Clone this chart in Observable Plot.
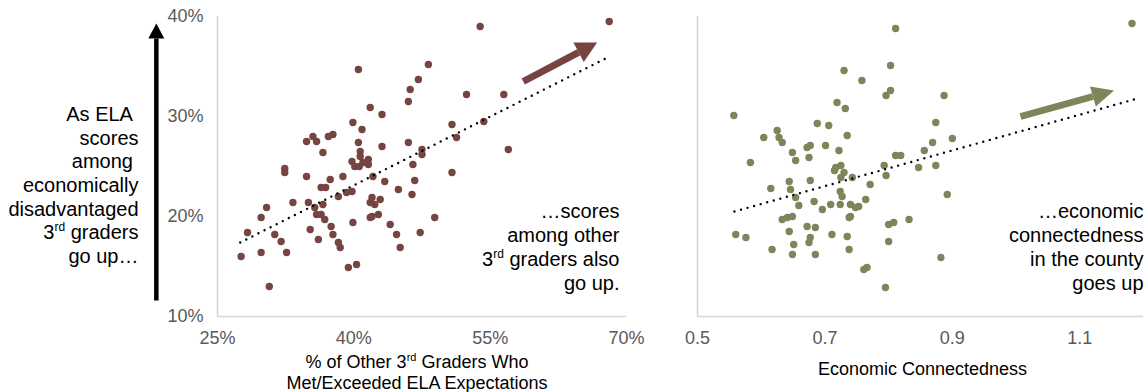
<!DOCTYPE html>
<html><head><meta charset="utf-8">
<script src="https://cdn.jsdelivr.net/npm/d3@7"></script>
<script src="https://cdn.jsdelivr.net/npm/@observablehq/plot@0.6"></script>
<style>
html,body{margin:0;padding:0;background:#fff;}
#wrap{position:relative;width:1148px;height:392px;overflow:hidden;}
#left{position:absolute;left:0;top:0;}
#right{position:absolute;left:660px;top:0;}
</style></head><body><div id="wrap"><div id="left"></div><div id="right"></div></div>
<script>
// ---- data ----
const otherELA = [32.4,32.4,34.8,35.5,35.9,36.6,37.2,37.7,34.8,37.4,
  38.8,39.9,40.5,40.9,40.5,40.7,40.7,39.8,40.1,40.6,
  41.0,41.6,41.6,42.1,41.8,43.1,43.1,46.0,46.2,47.1,
  48.2,46.0,46.5,47.5,47.5,46.7,50.8,50.8,43.4,53.9,
  68.1,52.4,56.5,51.3,54.3,57.0,44.9,46.4,36.4,36.9,
  38.3,39.2,39.8,30.4,29.8,28.3,31.3,32.0,33.3,35.0,
  36.6,35.7,35.9,36.4,36.8,37.5,37.7,38.3,38.5,39.9,
  35.2,36.1,32.6,29.8,27.6,30.7,39.4,40.3,41.8,42.0,
  42.3,42.9,41.8,42.0,42.7,44.0,44.7,45.1,47.3,48.9];
const disadvELA = [24.8,24.4,27.5,28.0,27.5,26.4,28.0,28.2,24.0,23.7,
  24.0,29.4,34.7,28.7,27.4,26.5,26.0,25.5,25.0,25.0,
  25.4,25.7,25.2,24.0,30.9,30.2,27.0,31.5,32.7,33.7,
  35.2,27.4,25.2,26.7,26.2,23.6,29.2,24.4,23.5,39.0,
  39.5,32.2,32.2,27.9,29.5,26.7,22.7,22.2,22.9,22.9,
  22.0,22.4,22.5,20.9,19.9,18.4,18.2,17.5,21.4,21.4,
  21.2,20.9,20.2,20.2,19.7,19.0,18.2,17.4,16.9,19.4,
  18.7,17.7,16.4,16.4,16.0,13.0,14.9,15.2,21.4,21.9,
  21.2,21.7,19.9,20.0,20.2,19.2,18.2,16.9,18.4,19.9];
const econConn = [0.811,0.803,0.730,0.758,0.803,0.796,0.719,0.732,0.557,0.688,
  0.706,0.625,0.628,0.633,0.604,0.735,0.672,0.677,0.701,0.649,
  0.654,0.675,0.722,0.583,0.811,0.819,0.847,0.793,0.796,0.717,
  0.725,0.715,0.730,0.725,0.743,0.644,0.677,1.182,0.887,0.874,
  0.869,0.900,0.856,0.874,0.646,0.615,0.654,0.659,0.683,0.696,
  0.709,0.724,0.727,0.724,0.740,0.748,0.753,0.764,0.771,0.738,
  0.740,0.633,0.641,0.649,0.644,0.672,0.685,0.677,0.675,0.651,
  0.649,0.685,0.617,0.560,0.576,0.711,0.735,0.738,0.761,0.766,
  0.795,0.800,0.808,0.800,0.832,0.892,0.882];
const disadvELA2 = [38.8,35.1,34.6,33.6,32.6,32.1,31.4,30.8,30.1,29.3,
  29.1,28.6,27.9,27.4,27.9,28.1,26.9,27.1,27.1,26.4,
  25.6,25.9,26.6,25.4,26.1,26.1,24.9,25.1,24.1,24.9,
  25.1,24.6,24.4,23.9,23.9,23.5,23.6,39.3,32.1,29.4,
  27.4,27.8,26.6,25.1,22.7,22.8,21.9,21.1,21.5,20.7,
  21.2,22.5,22.0,21.2,21.2,20.9,21.0,21.7,23.2,19.9,
  20.0,19.7,19.9,20.0,18.5,19.0,18.9,17.9,17.4,17.2,
  16.2,16.2,16.7,18.2,17.9,18.2,18.0,16.7,14.7,14.9,
  12.9,19.2,19.4,17.5,19.7,22.2,15.9];
const trendLeftX = [27.5, 67.7], trendLeftY = [17.4, 35.8];
const trendRightX = [0.558, 1.185], trendRightY = [20.5, 31.7];
const arrowLeftX = [58.64, 64.73], arrowLeftY = [33.5, 36.42];
const arrowRightX = [1.007, 1.1206], arrowRightY = [30.0, 32.0];
const bigArrowX = [18.27, 18.27], bigArrowY = [11.6, 37.8];
const yTicks = [10, 20, 30, 40];
const xTicksLeft = [25, 40, 55, 70];
const xTicksRight = [0.5, 0.7, 0.9, 1.1];
const xTitleLeft = "% of Other 3rd Graders Who\nMet/Exceeded ELA Expectations";
const xTitleRight = "Economic Connectedness";
const noteLeftMargin = "As ELA\u00a0\nscores\namong\u00a0\neconomically\ndisadvantaged\n3rd graders\ngo up\u2026";
const noteLeftPanel = "\u2026scores\namong other\n3rd graders also\ngo up.";
const noteRightPanel = "\u2026economic\nconnectedness\nin the county\ngoes up";

// ---- build ----
const leftData = otherELA.map((x, i) => ({x, y: disadvELA[i]}));
const rightData = econConn.map((x, i) => ({x, y: disadvELA2[i]}));
const pairs = (xs, ys) => xs.map((x, i) => ({x, y: ys[i]}));
const seg = (xs, ys) => [{x1: xs[0], y1: ys[0], x2: xs[1], y2: ys[1]}];

const font = '"Liberation Sans", Arial, Helvetica, sans-serif';
const maroon = "#764541", olive = "#7e855a", axisGray = "#d6d6d6";

function head(angleDeg, L, W) {
  const a = angleDeg * Math.PI / 180;
  const ux = Math.cos(a), uy = -Math.sin(a);
  const px = -uy, py = ux;
  return {draw(ctx) {
    ctx.moveTo(L * ux, L * uy);
    ctx.lineTo(W / 2 * px, W / 2 * py);
    ctx.lineTo(-W / 2 * px, -W / 2 * py);
    ctx.closePath();
  }};
}

const style = {fontFamily: font, fontSize: "18px", color: "#595959", background: "white"};
const dotted = {stroke: "black", strokeWidth: 2.4, strokeDasharray: "0,6.8", strokeLinecap: "round"};
const note = {text: d => d, textAnchor: "end", lineAnchor: "middle", fill: "black", fontSize: 20};

const leftPlot = Plot.plot({
  width: 660, height: 392, marginLeft: 217, marginRight: 34, marginTop: 16, marginBottom: 76,
  style,
  x: {domain: [25, 70], ticks: xTicksLeft, tickFormat: d => d + "%", tickSize: 0, tickPadding: 15, label: null},
  y: {domain: [10, 40], ticks: yTicks, tickFormat: d => d + "%", tickSize: 0, tickPadding: 14, label: null},
  marks: [
    Plot.ruleX([25], {stroke: axisGray, strokeWidth: 1.6}),
    Plot.ruleY([10], {stroke: axisGray, strokeWidth: 1.6}),
    Plot.dot(leftData, {x: "x", y: "y", r: 3.7, fill: maroon}),
    Plot.line(pairs(trendLeftX, trendLeftY), {x: "x", y: "y", ...dotted}),
    Plot.link(seg(arrowLeftX, arrowLeftY), {x1: "x1", y1: "y1", x2: "x2", y2: "y2", stroke: maroon, strokeWidth: 7}),
    Plot.dot([{x: arrowLeftX[1], y: arrowLeftY[1]}], {x: "x", y: "y", symbol: head(28, 21, 22), fill: maroon, stroke: "none"}),
    Plot.link(seg(bigArrowX, bigArrowY), {x1: "x1", y1: "y1", x2: "x2", y2: "y2", stroke: "black", strokeWidth: 4.5}),
    Plot.dot([{x: bigArrowX[1], y: bigArrowY[1]}], {x: "x", y: "y", symbol: head(90, 15, 16), fill: "black", stroke: "none"}),
    Plot.text([noteLeftMargin], {...note, frameAnchor: "left", dx: -79, dy: 18, lineHeight: 1.183}),
    Plot.text([noteLeftPanel], {...note, frameAnchor: "bottom-right", dx: -7, dy: -70, lineHeight: 1.2}),
    Plot.text([xTitleLeft], {text: d => d, frameAnchor: "bottom", dx: -5, dy: 55, lineAnchor: "middle", lineHeight: 1.2, fill: "black", fontSize: 18})
  ]
});

const rightPlot = Plot.plot({
  width: 488, height: 392, marginLeft: 37, marginRight: 5, marginTop: 16, marginBottom: 76,
  style,
  x: {domain: [0.5, 1.2], ticks: xTicksRight, tickFormat: d3.format(".1f"), tickSize: 0, tickPadding: 15, label: null},
  y: {domain: [10, 40], axis: null},
  marks: [
    Plot.ruleX([0.5], {stroke: axisGray, strokeWidth: 1.6}),
    Plot.ruleY([10], {stroke: axisGray, strokeWidth: 1.6}),
    Plot.dot(rightData, {x: "x", y: "y", r: 3.7, fill: olive}),
    Plot.line(pairs(trendRightX, trendRightY), {x: "x", y: "y", ...dotted}),
    Plot.link(seg(arrowRightX, arrowRightY), {x1: "x1", y1: "y1", x2: "x2", y2: "y2", stroke: olive, strokeWidth: 7}),
    Plot.dot([{x: arrowRightX[1], y: arrowRightY[1]}], {x: "x", y: "y", symbol: head(16, 22, 21), fill: olive, stroke: "none"}),
    Plot.text([noteRightPanel], {...note, frameAnchor: "bottom-right", dx: 0, dy: -70, lineHeight: 1.2}),
    Plot.text([xTitleRight], {text: d => d, frameAnchor: "bottom", dx: 2, dy: 52.5, lineAnchor: "middle", fill: "black", fontSize: 18})
  ]
});

const NS = "http://www.w3.org/2000/svg";
function superscript(svg) {
  svg.querySelectorAll("text, tspan").forEach(el => {
    if (el.childElementCount === 0 && el.textContent.includes("3rd")) {
      const holder = el.closest("[font-size]");
      const fs = holder ? parseFloat(holder.getAttribute("font-size")) || 18 : 18;
      const shift = Math.round(fs * 0.38);
      const [a, b] = el.textContent.split("3rd");
      el.textContent = "";
      el.appendChild(document.createTextNode(a + "3"));
      const sup = document.createElementNS(NS, "tspan");
      sup.setAttribute("dy", String(-shift));
      sup.setAttribute("font-size", String(Math.round(fs * 0.62)));
      sup.textContent = "rd";
      el.appendChild(sup);
      const rest = document.createElementNS(NS, "tspan");
      rest.setAttribute("dy", String(shift));
      rest.textContent = b;
      el.appendChild(rest);
    }
  });
}
superscript(leftPlot);
superscript(rightPlot);
document.getElementById("left").appendChild(leftPlot);
document.getElementById("right").appendChild(rightPlot);
</script>
</body></html>
